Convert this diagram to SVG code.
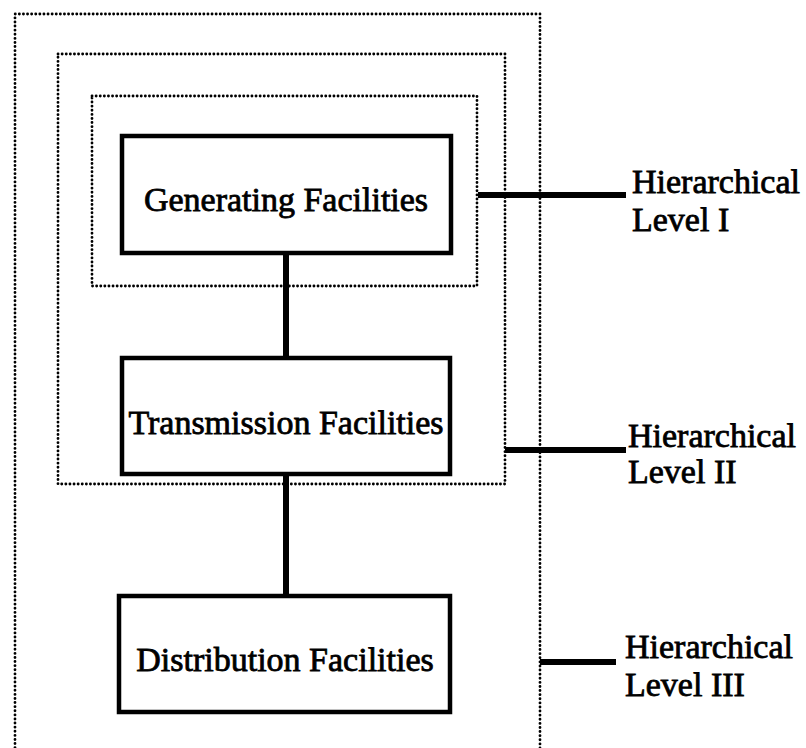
<svg xmlns="http://www.w3.org/2000/svg" width="806" height="748" viewBox="0 0 806 748">
  <style>
    .level { fill: none; stroke: #000; stroke-width: 2.8; stroke-linecap: round; stroke-dasharray: 0.1 4; }
    .box { fill: #fff; stroke: #000; stroke-width: 4.5; }
    .wire { stroke: #000; stroke-width: 6; fill: none; }
    text { font-family: "Liberation Serif", "Times New Roman", serif; font-size: 34px; fill: #000; stroke: #000; stroke-width: 0.8; }
    .c { text-anchor: middle; }
  </style>
  <rect width="806" height="748" fill="#fff"/>

  <!-- hierarchical level boundaries (outer one runs off the bottom) -->
  <g id="levels">
    <path class="level" d="M15,760 V14 H540 V760"/>
    <rect class="level" x="58" y="54" width="447" height="430"/>
    <rect class="level" x="92" y="96" width="385" height="190"/>
  </g>

  <!-- connectors -->
  <g id="connectors">
    <line class="wire" x1="286" y1="253" x2="286" y2="358"/>
    <line class="wire" x1="286" y1="474" x2="286" y2="596"/>
    <line class="wire" x1="478" y1="195" x2="626" y2="195"/>
    <line class="wire" x1="505" y1="450" x2="626" y2="450"/>
    <line class="wire" x1="540" y1="662" x2="616" y2="662"/>
  </g>

  <g id="generating">
    <rect class="box" x="122" y="136" width="329" height="117"/>
    <text class="c" x="286" y="211">Generating Facilities</text>
  </g>
  <g id="transmission">
    <rect class="box" x="122" y="358" width="328" height="116"/>
    <text class="c" x="286" y="434">Transmission Facilities</text>
  </g>
  <g id="distribution">
    <rect class="box" x="119" y="596" width="331" height="116"/>
    <text class="c" x="285" y="671">Distribution Facilities</text>
  </g>

  <g id="label-level-1">
    <text x="632" y="193">Hierarchical</text>
    <text x="632" y="231">Level I</text>
  </g>
  <g id="label-level-2">
    <text x="628" y="447">Hierarchical</text>
    <text x="628" y="483">Level II</text>
  </g>
  <g id="label-level-3">
    <text x="625" y="658">Hierarchical</text>
    <text x="625" y="696">Level III</text>
  </g>
</svg>
